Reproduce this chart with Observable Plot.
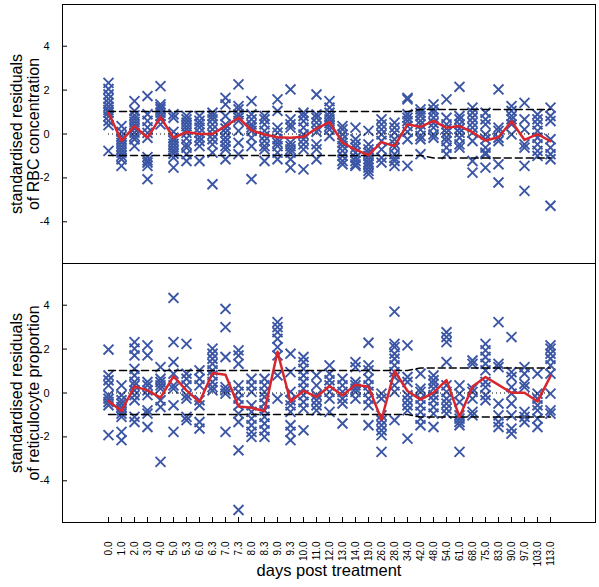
<!DOCTYPE html>
<html><head><meta charset="utf-8">
<script src="https://cdn.jsdelivr.net/npm/d3@7"></script>
<script src="https://cdn.jsdelivr.net/npm/@observablehq/plot@0.6"></script>
<style>body{margin:0;background:#fff}#chart{width:599px;height:587px}</style>
</head><body><div id="chart"></div>
<script>
const days = ["0.0","1.0","2.0","3.0","4.0","5.0","5.3","6.0","6.3","7.0","7.3","8.0","8.3","9.0","9.3","10.0","11.0","12.0","13.0","14.0","19.0","26.0","28.0","34.0","42.0","48.0","54.0","61.0","68.0","75.0","83.0","90.0","97.0","103.0","113.0"];
const yTicks = [-4, -2, 0, 2, 4];
const panels = ["rbc", "ret"];
const yTitles = ["standardised residuals\nof RBC concentration", "standardised residuals\nof reticulocyte proportion"];
const xTitle = "days post treatment";

const rbcPoints = [
  [2.33,2.05,1.8,1.6,1.42,1.25,1.1,0.97,0.8,0.6,0.4,-0.77],
  [0.36,0.1,-0.1,-0.25,-0.4,-0.55,-0.7,-0.85,-1.0,-1.15,-1.45],
  [1.5,1.05,0.85,0.7,0.55,0.4,0.25,0.06,-0.1,-0.24,-0.55],
  [1.73,0.9,0.6,0.3,0.05,-0.17,-1.05,-1.2,-1.3,-1.45,-2.06],
  [2.18,1.35,1.23,1.12,0.97,0.82,0.67,0.44],
  [0.9,0.74,0.1,-0.17,-0.3,-0.45,-0.6,-0.75,-0.9,-1.08,-1.53],
  [0.82,0.67,0.52,0.36,0.21,0.05,-0.2,-0.47,-0.62,-0.92,-1.23],
  [0.82,0.6,0.45,0.29,0.06,-0.15,-0.32,-0.55,-1.23],
  [0.97,0.82,0.67,0.44,0.21,-0.02,-0.24,-0.47,-0.85,-2.29],
  [1.65,1.35,0.82,0.44,0.25,0.06,-0.17,-0.35,-0.55,-0.7,-1.15],
  [2.26,1.27,1.12,0.9,0.75,0.6,0.14,-0.4,-0.92],
  [1.5,0.9,0.67,0.44,0.3,0.14,-0.17,-0.55,-2.06],
  [0.82,0.67,0.44,0.14,-0.09,-0.32,-0.55,-0.7,-1.23],
  [1.58,1.05,0.29,0.06,-0.24,-0.4,-0.55,-0.85,-1.15],
  [2.03,0.67,0.44,0.29,-0.39,-0.55,-0.7,-0.85,-1.15,-1.53],
  [0.97,0.82,0.59,0.29,-0.02,-0.24,-0.47,-0.7,-1.61],
  [1.8,0.89,0.74,0.52,0.29,0.1,-0.47,-0.7,-1.15],
  [1.5,1.2,0.97,0.8,0.67,0.5,0.36,0.2,-0.09],
  [0.36,0.21,-0.02,-0.24,-0.4,-0.55,-0.77,-1.0,-1.23,-1.38],
  [0.29,-0.24,-0.45,-0.62,-0.85,-1.08,-1.23,-1.38,-1.45],
  [0.14,-0.47,-0.7,-0.85,-1.0,-1.15,-1.3,-1.38,-1.53,-1.68,-1.83],
  [0.67,0.44,0.21,-0.02,-0.32,-0.7,-1.08,-1.3],
  [0.52,0.29,0.06,-0.24,-0.45,-0.62,-0.92,-1.1,-1.23,-1.45],
  [1.65,1.58,0.9,0.74,0.59,0.36,0.1,-0.24,-1.45],
  [1.12,0.97,0.82,0.6,0.44,0.2,-0.09,-0.24,-0.92],
  [1.35,1.12,0.97,0.74,0.5,0.29,-0.02,-0.17],
  [1.58,0.74,0.44,0.25,0.06,-0.15,-0.32,-0.62,-0.92],
  [2.15,0.82,0.67,0.44,0.25,0.06,-0.17,-0.47,-0.62],
  [1.2,0.97,0.74,0.52,0.29,0.06,-0.32,-1.23,-1.76],
  [0.97,0.67,0.44,-0.02,-0.24,-0.62,-0.85,-0.92,-1.53],
  [2.03,0.29,0.14,-0.17,-0.32,-1.38,-2.21],
  [1.27,1.05,0.82,0.67,0.44,-0.02],
  [1.42,0.67,0.21,-0.47,-0.62,-1.45,-2.59],
  [0.89,0.67,0.44,0.14,-0.17,-0.47,-0.77,-1.0],
  [1.2,0.82,0.59,-0.24,-0.62,-0.92,-1.15,-3.27]
];
const retPoints = [
  [1.98,0.8,0.58,0.35,-0.1,-0.26,-0.41,-0.56,-1.92],
  [0.35,-0.1,-0.33,-0.48,-0.64,-0.79,-0.94,-1.09,-1.77,-2.15],
  [2.32,2.02,1.71,1.1,0.8,0.5,0.35,0.12,-0.1,-0.33,-1.09,-1.32],
  [2.17,1.71,0.5,0.35,0.12,-0.1,-0.79,-0.94,-1.55],
  [1.18,0.65,0.5,0.35,0.2,-0.33,-0.64,-3.14],
  [4.33,2.32,1.41,0.88,0.35,0.2,-0.56,-1.77],
  [2.24,0.88,0.65,0.35,-0.1,-0.26,-1.09,-1.24],
  [1.03,0.65,0.35,-0.33,-0.56,-1.32,-1.62],
  [2.02,1.79,1.56,1.33,1.03,0.8,0.5,0.27,0.12],
  [3.83,3.0,1.64,0.27,0.12,-0.03,-1.77],
  [1.94,1.71,1.33,0.35,0.05,-0.26,-0.56,-0.94,-1.32,-2.61,-5.33],
  [0.65,0.35,0.05,-0.56,-0.86,-1.17,-1.47,-1.77,-2.0],
  [0.65,0.35,0.05,-0.18,-0.48,-0.79,-1.09,-1.39,-1.7,-2.0],
  [3.23,3.0,2.77,2.47,2.09,1.71,0.8,-0.26],
  [1.79,0.95,0.05,-0.33,-0.56,-0.86,-1.47,-1.77,-2.15],
  [1.64,1.41,1.1,0.8,0.5,0.2,-0.1,-0.41,-0.71,-1.7],
  [0.8,0.35,-0.1,-0.33,-0.56,-0.79],
  [1.26,0.88,0.58,0.35,0.05,-0.26,-0.86],
  [0.65,0.35,0.05,-0.26,-0.48,-1.39],
  [1.41,1.18,0.5,0.35,0.2,0.05,-0.26],
  [2.29,1.26,1.03,0.65,0.35,0.05,-0.26,-0.56,-1.47],
  [-0.03,-0.26,-1.02,-1.24,-1.47,-1.7,-1.92,-2.68],
  [3.71,2.24,2.09,1.79,1.56,1.26,0.95,0.73,0.35,0.05,-1.24],
  [2.17,0.73,0.5,-0.1,-0.33,-0.56,-0.79,-2.08],
  [0.88,0.2,0.05,-0.26,-0.56,-0.86,-1.17,-1.47],
  [0.8,0.58,0.42,0.2,-0.1,-0.33,-0.64,-0.94,-1.55],
  [2.77,2.55,2.32,1.41,0.35,0.05,-0.26,-0.48,-0.71,-0.94],
  [0.35,-0.03,-0.41,-1.02,-1.17,-1.32,-1.47,-2.68],
  [1.48,1.33,0.2,0.05,-0.26,-0.86,-1.02],
  [2.24,1.94,1.64,1.33,1.03,0.5,0.27,-0.1,-0.33],
  [3.23,1.33,1.18,-0.48,-1.02,-1.32,-1.55],
  [2.55,0.95,0.73,0.27,-0.03,-0.48,-1.02,-1.62,-1.85],
  [1.18,0.88,0.42,0.27,-0.86,-1.09,-1.32],
  [0.88,-0.03,-0.26,-0.56,-0.79,-1.17,-1.55],
  [2.17,2.02,1.79,1.56,1.26,0.88,-0.03,-0.79,-0.94]
];
const rbcMean = [0.97,-0.32,0.36,-0.17,0.77,-0.17,0.09,0.0,0.0,0.36,0.74,0.17,-0.02,-0.15,-0.17,-0.13,0.25,0.54,-0.39,-0.71,-0.96,-0.37,-0.55,0.44,0.32,0.6,0.28,0.36,0.08,-0.3,-0.15,0.58,-0.27,-0.01,-0.33];
const retMean = [-0.36,-0.82,0.3,0.12,-0.21,0.76,0.12,-0.41,0.91,0.83,-0.61,-0.67,-0.83,1.88,-0.4,0.1,-0.18,0.32,-0.11,0.38,0.28,-1.22,1.0,0.09,-0.3,0.02,0.59,-1.09,0.3,0.73,0.37,0.01,0.01,-0.39,0.77];
const rbcUpper = [1.02,1.02,1.02,1.02,1.02,1.02,1.02,1.02,1.02,1.02,1.02,1.02,1.02,1.02,1.02,1.02,1.02,1.02,1.02,1.02,1.02,1.02,1.02,1.02,1.12,1.12,1.12,1.12,1.12,1.12,1.12,1.12,1.12,1.12,1.12];
const rbcLower = [-0.98,-0.98,-0.98,-0.98,-0.98,-0.98,-0.98,-0.98,-0.98,-0.98,-0.98,-0.98,-0.98,-0.98,-0.98,-0.98,-0.98,-0.98,-0.98,-0.98,-0.98,-0.98,-0.98,-0.98,-0.98,-1.09,-1.09,-1.09,-1.09,-1.09,-1.09,-1.09,-1.09,-1.09,-1.09];
const retUpper = [1.03,1.03,1.03,1.03,1.03,1.03,1.03,1.03,1.03,1.03,1.03,1.03,1.03,1.03,1.03,1.03,1.03,1.03,1.03,1.03,1.03,1.03,1.03,1.03,1.14,1.14,1.14,1.14,1.14,1.14,1.14,1.14,1.14,1.14,1.14];
const retLower = [-0.98,-0.98,-0.98,-0.98,-0.98,-0.98,-0.98,-0.98,-0.98,-0.98,-0.98,-0.98,-0.98,-0.98,-0.98,-0.98,-0.98,-0.98,-0.98,-0.98,-0.98,-0.98,-0.98,-0.98,-1.09,-1.09,-1.09,-1.09,-1.09,-1.09,-1.09,-1.09,-1.09,-1.09,-1.09];

const pts = [];
const lines = [];
days.forEach((d, i) => {
  rbcPoints[i].forEach(v => pts.push({panel: "rbc", day: d, value: v}));
  retPoints[i].forEach(v => pts.push({panel: "ret", day: d, value: v}));
  lines.push({panel: "rbc", day: d, mean: rbcMean[i], upper: rbcUpper[i], lower: rbcLower[i]});
  lines.push({panel: "ret", day: d, mean: retMean[i], upper: retUpper[i], lower: retLower[i]});
});
const titles = panels.map((p, i) => ({panel: p, label: yTitles[i]}));

const chart = Plot.plot({
  width: 599, height: 587,
  marginLeft: 62, marginRight: 4, marginTop: 3, marginBottom: 65,
  style: {fontFamily: "'Liberation Sans', Arial, sans-serif", fontSize: "10px", background: "#fff", color: "#000", overflow: "visible"},
  x: {type: "point", domain: days, padding: 2.38},
  y: {domain: [-5.9, 5.9]},
  fy: {domain: panels, padding: 0, axis: null},
  marks: [
    Plot.dot(pts, {x: "day", y: "value", fy: "panel", symbol: "times", r: 4.6, stroke: "#3b56a5", strokeWidth: 1.9}),
    Plot.line(lines, {x: "day", y: "upper", fy: "panel", stroke: "#000", strokeWidth: 1.5, strokeDasharray: "7,4"}),
    Plot.line(lines, {x: "day", y: "lower", fy: "panel", stroke: "#000", strokeWidth: 1.5, strokeDasharray: "7,4"}),
    Plot.ruleY([0], {x1: () => days[0], x2: () => days[days.length - 1], stroke: "#000", strokeDasharray: "1,3"}),
    Plot.line(lines, {x: "day", y: "mean", fy: "panel", stroke: "#d7262e", strokeWidth: 2.5}),
    Plot.frame({stroke: "#000", strokeWidth: 1}),
    Plot.axisY({ticks: yTicks, tickSize: 5, dx: 5, tickFormat: () => "", label: null}),
    Plot.axisY({ticks: yTicks, tickSize: 0, tickPadding: 13, tickFormat: d => String(d), label: null, fontSize: 11}),
    Plot.axisX({tickSize: 5, dy: -5, tickFormat: () => "", label: null}),
    Plot.axisX({tickSize: 0, tickPadding: 19, tickRotate: -90, label: null, fontSize: 10}),
    Plot.text(titles, {fy: "panel", text: "label", frameAnchor: "left", textAnchor: "middle", rotate: -90, dx: -37, fontSize: 16, lineHeight: 1.05}),
    Plot.text([xTitle], {fy: () => "ret", text: d => d, frameAnchor: "bottom", dy: 53, fontSize: 16.5})
  ]
});
document.getElementById("chart").appendChild(chart);
</script>
</body></html>
